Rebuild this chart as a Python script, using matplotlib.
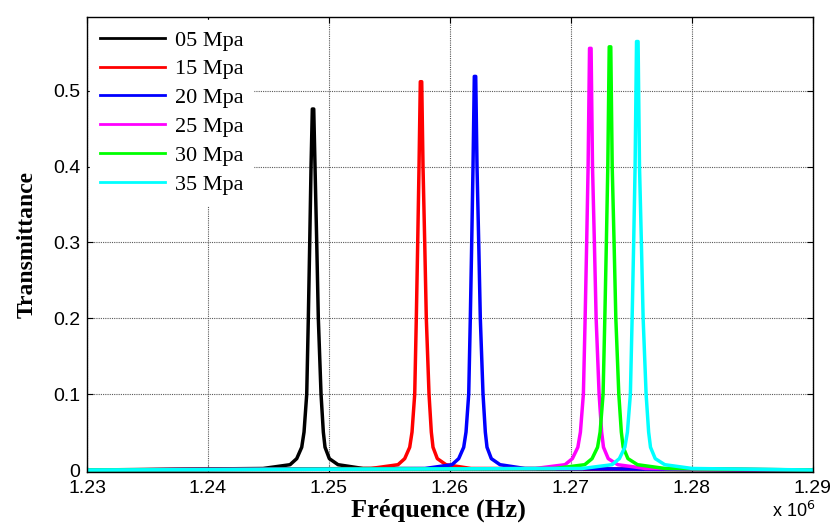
import matplotlib.pyplot as plt

# pressure labels
labels = ['05 Mpa', '15 Mpa', '20 Mpa', '25 Mpa', '30 Mpa', '35 Mpa']
colors = ['#000000', '#ff0000', '#0000ff', '#ff00ff', '#00ff00', '#00ffff']

# frequency (Hz) and transmittance, one pair per curve
f05 = [1230000, 1244556, 1246789, 1247343, 1247756, 1247947, 1248170, 1248302, 1248418, 1248526,
       1248633, 1248749, 1248856, 1248997, 1249129, 1249353, 1249543, 1249683, 1250039, 1250759,
       1252826, 1290000]
t05 = [0.0, 0.002, 0.007, 0.015, 0.030, 0.050, 0.100, 0.200, 0.300, 0.400,
       0.476, 0.476, 0.400, 0.300, 0.200, 0.100, 0.050, 0.030, 0.015, 0.007,
       0.002, 0.0]

f15 = [1230000, 1253487, 1255720, 1256274, 1256687, 1256878, 1257101, 1257233, 1257349, 1257457,
       1257564, 1257680, 1257787, 1257928, 1258060, 1258284, 1258474, 1258614, 1258970, 1259690,
       1261757, 1290000]
t15 = [0.0, 0.002, 0.007, 0.015, 0.030, 0.050, 0.100, 0.200, 0.300, 0.400,
       0.512, 0.512, 0.400, 0.300, 0.200, 0.100, 0.050, 0.030, 0.015, 0.007,
       0.002, 0.0]

f20 = [1230000, 1257953, 1260186, 1260740, 1261153, 1261344, 1261567, 1261699, 1261815, 1261923,
       1262030, 1262146, 1262253, 1262394, 1262526, 1262750, 1262940, 1263080, 1263436, 1264156,
       1266223, 1290000]
t20 = [0.0, 0.002, 0.007, 0.015, 0.030, 0.050, 0.100, 0.200, 0.300, 0.400,
       0.519, 0.519, 0.400, 0.300, 0.200, 0.100, 0.050, 0.030, 0.015, 0.007,
       0.002, 0.0]

f25 = [1230000, 1267074, 1269531, 1270140, 1270594, 1270805, 1271050, 1271195, 1271323, 1271441,
       1271559, 1271687, 1271805, 1271960, 1272105, 1272351, 1272560, 1272714, 1273106, 1273898,
       1276172, 1290000]
t25 = [0.0, 0.002, 0.007, 0.015, 0.030, 0.050, 0.100, 0.200, 0.300, 0.400,
       0.556, 0.556, 0.400, 0.300, 0.200, 0.100, 0.050, 0.030, 0.015, 0.007,
       0.002, 0.0]

f30 = [1230000, 1268703, 1271160, 1271769, 1272223, 1272434, 1272679, 1272824, 1272952, 1273070,
       1273188, 1273316, 1273434, 1273589, 1273734, 1273980, 1274189, 1274343, 1274735, 1275527,
       1277801, 1290000]
t30 = [0.0, 0.002, 0.007, 0.015, 0.030, 0.050, 0.100, 0.200, 0.300, 0.400,
       0.558, 0.558, 0.400, 0.300, 0.200, 0.100, 0.050, 0.030, 0.015, 0.007,
       0.002, 0.0]

f35 = [1230000, 1270961, 1273418, 1274027, 1274481, 1274692, 1274937, 1275082, 1275210, 1275328,
       1275446, 1275574, 1275692, 1275847, 1275992, 1276238, 1276447, 1276601, 1276993, 1277785,
       1280059, 1290000]
t35 = [0.0, 0.002, 0.007, 0.015, 0.030, 0.050, 0.100, 0.200, 0.300, 0.400,
       0.565, 0.565, 0.400, 0.300, 0.200, 0.100, 0.050, 0.030, 0.015, 0.007,
       0.002, 0.0]

freqs = [f05, f15, f20, f25, f30, f35]
trans = [t05, t15, t20, t25, t30, t35]

xticks = [1.23e6, 1.24e6, 1.25e6, 1.26e6, 1.27e6, 1.28e6, 1.29e6]
xticklabels = ['1.23', '1.24', '1.25', '1.26', '1.27', '1.28', '1.29']
yticks = [0, 0.1, 0.2, 0.3, 0.4, 0.5]
yticklabels = ['0', '0.1', '0.2', '0.3', '0.4', '0.5']

fig = plt.figure(figsize=(8.36, 5.25), dpi=100)
ax = fig.add_axes([0.1041, 0.1010, 0.8678, 0.8670])

for f, t, c, lab in zip(freqs, trans, colors, labels):
    ax.plot(f, t, color=c, lw=2.5, label=lab)

ax.set_xlim(1.23e6, 1.29e6)
ax.set_ylim(-0.0026, 0.5976)
ax.set_xticks(xticks)
ax.set_xticklabels(xticklabels, fontsize=14, family='Liberation Sans')
ax.set_yticks(yticks)
ax.set_yticklabels(yticklabels, fontsize=14, family='Liberation Sans')
ax.tick_params(direction='in', top=True, right=True, length=4, width=0.8)
ax.tick_params(axis='x', pad=6)
ax.tick_params(axis='y', pad=5)
ax.grid(True, linestyle=(0, (1, 1)), color='0.35', lw=0.8)
for s in ax.spines.values():
    s.set_linewidth(1.0)

ax.set_xlabel('Fréquence (Hz)', fontsize=19, fontweight='bold', family='Liberation Serif')
ax.xaxis.set_label_coords(0.485, -0.058)
ax.set_ylabel('Transmittance', fontsize=17, fontweight='bold', family='Liberation Serif', labelpad=11)

leg = ax.legend(loc='upper left', prop={'family': 'Liberation Serif', 'size': 16},
                frameon=True, fancybox=False, edgecolor='white', framealpha=1.0,
                handlelength=2.9, handletextpad=0.45, labelspacing=0.37,
                borderaxespad=0.15, borderpad=0.45)
for line in leg.get_lines():
    line.set_linewidth(2.0)

fig.text(0.975, 0.008, r'x 10$^6$', ha='right', va='bottom', fontsize=13, family='Liberation Sans')

fig.savefig('out.png', dpi=100)
